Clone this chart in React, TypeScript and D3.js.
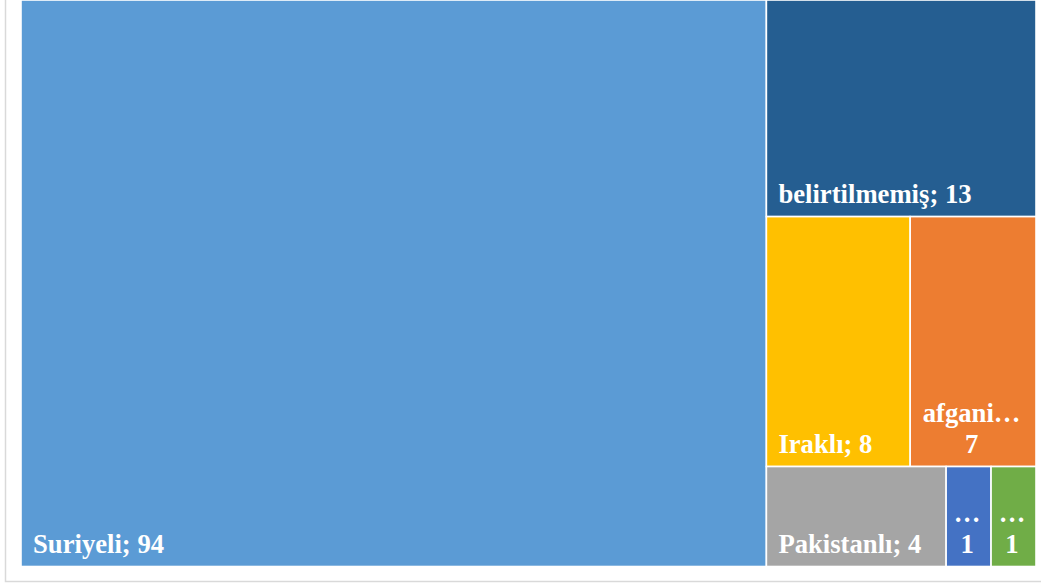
import React from "react";
import * as d3 from "d3";

const categories = ["Suriyeli", "belirtilmemiş", "Iraklı", "afgani…", "Pakistanlı", "…", "…"];
const values = [94, 13, 8, 7, 4, 1, 1];
const colors = ["#5B9BD5", "#255E91", "#FFC000", "#ED7D31", "#A5A5A5", "#4472C4", "#70AD47"];
// Excel-style layout structure (indices into the arrays above)
const layout = {
  dir: "h",
  children: [0, { dir: "v", children: [1, { dir: "v", children: [{ dir: "h", children: [2, 3] }, { dir: "h", children: [4, 5, 6] }] }] }],
};

const W = 1041;
const H = 585;
const plot = { x0: 21, y0: 0, x1: 1036, y1: 566.5 };
const FONT = "bold 26.67px 'Liberation Serif', 'Times New Roman', serif";

function build(g: any): any {
  if (typeof g === "number") return { idx: g, value: values[g] };
  return { dir: g.dir, children: g.children.map(build) };
}

function measure(text: string): number {
  const c = document.createElement("canvas").getContext("2d")!;
  c.font = FONT;
  return c.measureText(text).width;
}

export default function App() {
  const root = d3.hierarchy(build(layout)).sum((d: any) => (d.children ? 0 : d.value));

  const tile = (node: any, x0: number, y0: number, x1: number, y1: number) => {
    (node.data.dir === "h" ? d3.treemapDice : d3.treemapSlice)(node, x0, y0, x1, y1);
  };

  d3.treemap<any>()
    .tile(tile as any)
    .size([plot.x1 - plot.x0, plot.y1 - plot.y0])
    .round(false)(root as any);

  const leaves = (root as any).leaves() as any[];

  return (
    <svg width={W} height={H} style={{ position: "absolute", left: 0, top: 0 }}>
      <rect x={0} y={0} width={W} height={H} fill="#fff" />
      <rect x={5.5} y={-10} width={W + 20} height={591.5} fill="#fff" stroke="#D9D9D9" strokeWidth={1.5} />
      <g transform={`translate(${plot.x0},${plot.y0})`}>
        {leaves.map((l, i) => {
          const idx = l.data.idx;
          const name = categories[idx];
          const v = values[idx];
          const w = l.x1 - l.x0;
          const single = `${name}; ${v}`;
          const fits = measure(single) <= w - 20;
          const cx = (l.x0 + l.x1) / 2 - 1.5;
          return (
            <g key={i}>
              <rect
                x={l.x0}
                y={l.y0}
                width={w}
                height={l.y1 - l.y0}
                fill={colors[idx]}
                stroke="#fff"
                strokeWidth={1.6}
              />
              {fits ? (
                <text x={l.x0 + 12} y={l.y1 - 14} fill="#fff" style={{ font: FONT }}>
                  {single}
                </text>
              ) : (
                <text x={cx} y={l.y1 - 14} fill="#fff" textAnchor="middle" style={{ font: FONT }}>
                  <tspan x={cx} dy={-31}>
                    {name}
                  </tspan>
                  <tspan x={cx} dy={31}>
                    {String(v)}
                  </tspan>
                </text>
              )}
            </g>
          );
        })}
      </g>
    </svg>
  );
}
